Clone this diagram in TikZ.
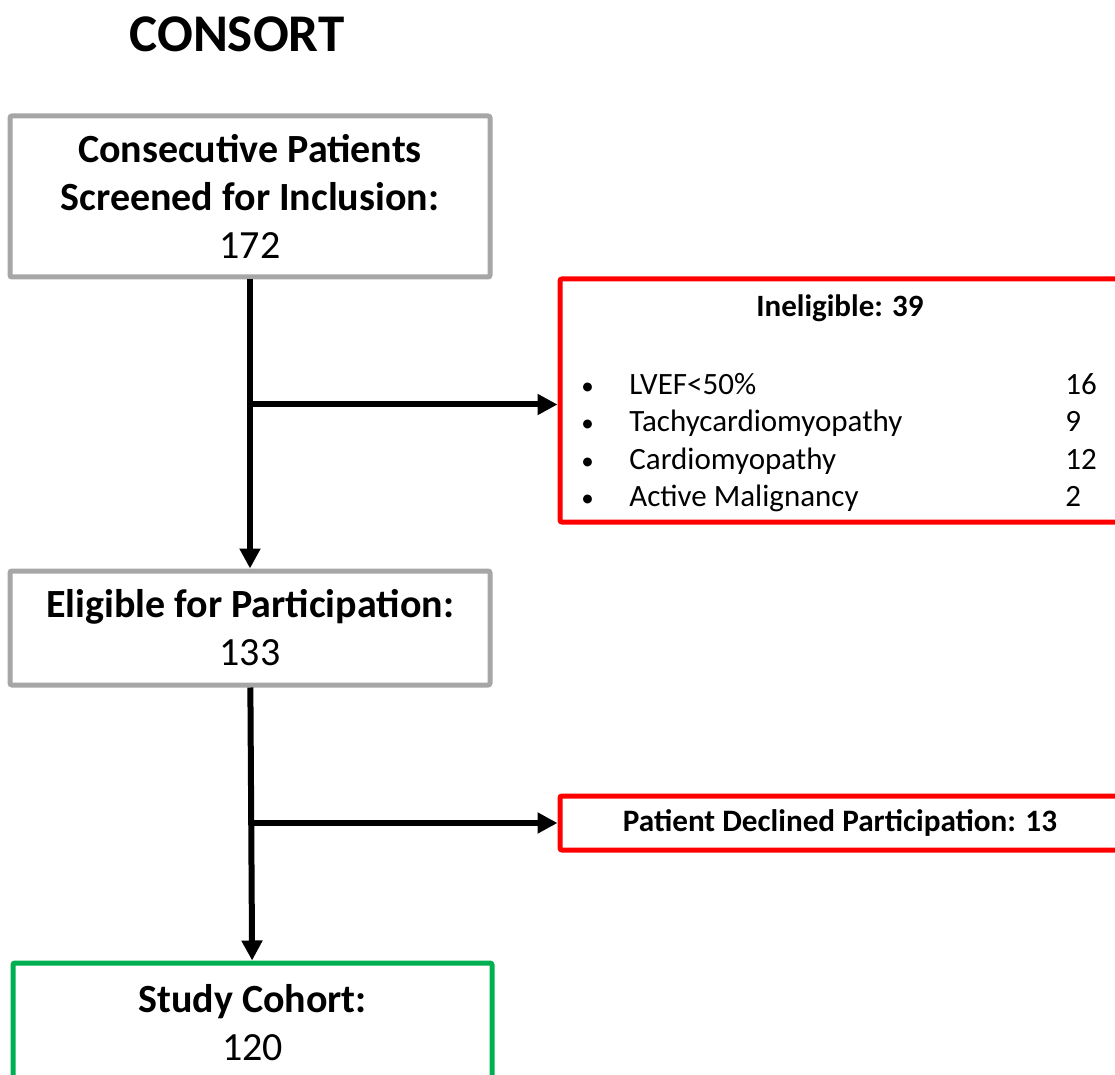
\documentclass[tikz,border=0pt]{standalone}
\usepackage{fontspec}
\setmainfont{Carlito}
\usetikzlibrary{positioning,arrows.meta,calc}
\definecolor{consgrey}{RGB}{166,166,166}
\definecolor{consred}{RGB}{255,0,0}
\definecolor{consgreen}{RGB}{0,176,80}
\newcommand{\consbullet}{{\fontsize{12.5}{15}\selectfont\textbullet}}
\begin{document}
\begin{tikzpicture}[x=0.5pt,y=-0.5pt,
		box/.style={draw,line width=2.5pt,rounded corners=1pt,align=center,inner sep=0pt,font=\fontsize{20}{24}\selectfont},
		greybox/.style={box,draw=consgrey},
		redbox/.style={box,draw=consred,font=\fontsize{15.6}{18.7}\selectfont\bfseries},
		greenbox/.style={box,draw=consgreen},
		flow/.style={line width=3pt,-{Triangle[length=10pt,width=10pt]}}]
	\useasboundingbox (0,0) rectangle (1115,1075);
	\node (title) at (237,34) {\fontsize{26.5}{30}\selectfont\bfseries CONSORT};
	\node[greybox,minimum width=240pt,minimum height=80.5pt] (screened) at (250,196.5) {\textbf{Consecutive Patients}\\\textbf{Screened for Inclusion:}\\172};
	\node[greybox,minimum width=240pt,minimum height=57pt] (eligible) at (250,628) {\textbf{Eligible for Participation:}\\133};
	\node[greenbox,minimum width=239.5pt,minimum height=60pt] (cohort) at (252.5,1023) {\textbf{Study Cohort:}\\120};
	\node[redbox,minimum width=280pt,minimum height=121.5pt] (ineligible) at (840,400.5) {};
	\node[font=\fontsize{15.5}{18.7}\selectfont\bfseries] (inelhead) at (840,308) {Ineligible: 39};
	\node[anchor=north west,inner sep=0pt,font=\fontsize{15.5}{18.7}\selectfont] (inellist) at (581,367.8) {%
		\begin{tabular}{@{}p{24pt}@{}p{218pt}@{}l@{}}
			\consbullet & LVEF<50\% & 16\\
			\consbullet & Tachycardiomyopathy & 9\\
			\consbullet & Cardiomyopathy & 12\\
			\consbullet & Active Malignancy & 2
		\end{tabular}};
	\node[redbox,minimum width=280pt,minimum height=27pt] (declined) at (840,823) {Patient Declined Participation: 13};
	% arrows
	\draw[flow] (screened) -- (eligible);
	\draw[flow] (screened |- ineligible.west) ++(0,4) -- ([yshift=-2pt]ineligible.west);
	\draw[flow] (eligible) -- (cohort);
	\draw[flow] (eligible |- declined) -- (declined);
\end{tikzpicture}
\end{document}
